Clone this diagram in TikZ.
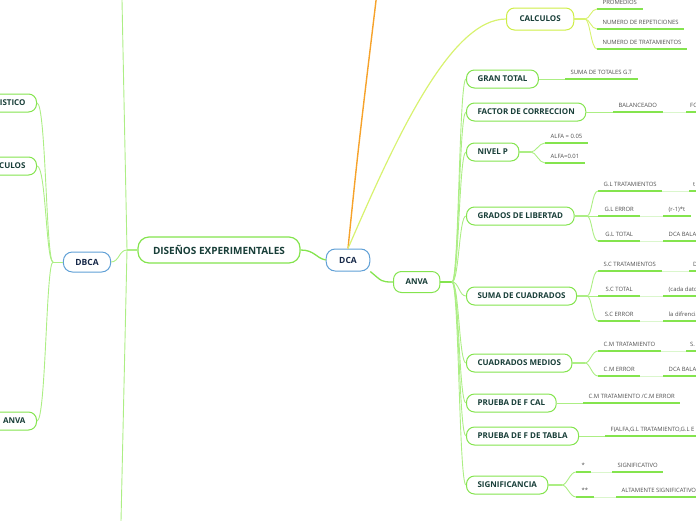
\documentclass[tikz,border=0pt]{standalone}
\usepackage{fontspec}
\setmainfont{Open Sans}
\usetikzlibrary{positioning}
\definecolor{mmgreen}{RGB}{132,228,78}
\definecolor{mmline}{RGB}{172,238,132}
\definecolor{mmfaint}{RGB}{218,246,204}
\definecolor{mmyellow}{RGB}{206,238,70}
\definecolor{mmyline}{RGB}{216,242,112}
\definecolor{mmblue}{RGB}{96,160,214}
\definecolor{mmorange}{RGB}{246,162,42}
\definecolor{mmtext}{RGB}{24,62,56}
\definecolor{mmnavy}{RGB}{22,40,72}
\definecolor{leafgray}{RGB}{78,78,78}
\tikzset{
  root/.style={draw=mmgreen, line width=1.2pt, fill=white, rounded corners=11pt,
    font=\bfseries\fontsize{10}{12}\selectfont, text=mmtext,
    minimum height=26pt, inner xsep=15pt}, % central topic
  topic/.style={draw=mmblue, line width=1pt, fill=white, rounded corners=9pt,
    font=\bfseries\fontsize{8.5}{10}\selectfont, text=mmnavy,
    minimum height=22pt, inner xsep=13pt},
  sub/.style={draw=mmgreen, line width=1pt, fill=white, rounded corners=8pt,
    font=\bfseries\fontsize{8}{10}\selectfont, text=mmtext,
    minimum height=18pt, inner xsep=11pt, anchor=west},
  leaf/.style={font=\fontsize{5.9}{7}\selectfont, text=leafgray,
    text height=4.2pt, text depth=1.2pt, inner xsep=5.5pt, inner ysep=3.2pt,
    anchor=south west},
  edgeleaf/.style={leaf, inner xsep=4pt, text width=20pt, align=left}, % cut by the border
  uline/.style={draw=mmgreen, line width=1.6pt},
  conn/.style={draw=mmline, line width=0.9pt},
  faint/.style={draw=mmfaint, line width=1pt},
}
\begin{document}
\begin{tikzpicture}[x=1pt, y=-1pt]
  \useasboundingbox (0,0) rectangle (696,520);
  \clip (0,0) rectangle (696,520);

  % main nodes
  \node[root] (dis) at (219,250) {DISEÑOS EXPERIMENTALES};
  \node[topic] (dca) at (348,260) {DCA};
  \node[topic, minimum height=20pt, inner xsep=12pt] (dbca) at (87,262) {DBCA};
  \node[sub, draw=mmyellow, minimum height=22pt, inner xsep=13pt] (calc) at (506,19) {CALCULOS};
  \node[sub, minimum height=21pt, inner xsep=12pt] (anva) at (393,282) {ANVA};

  % left column (cut by the border)
  \node[sub, anchor=east, text width=40pt, align=right] (est) at (37,103) {ISTICO};
  \node[sub, anchor=east, text width=40pt, align=right] (calcL) at (37,166) {CULOS};
  \node[sub, anchor=east, text width=40pt, align=right] (anvaL) at (37,421) {ANVA};

  % children of ANVA
  \node[sub] (gt) at (466,79) {GRAN TOTAL};
  \node[sub] (fc) at (466,112) {FACTOR DE CORRECCION};
  \node[sub] (np) at (466,152) {NIVEL P};
  \node[sub] (gl) at (466,216) {GRADOS DE LIBERTAD};
  \node[sub] (sc) at (466,296) {SUMA DE CUADRADOS};
  \node[sub] (cm) at (466,363) {CUADRADOS MEDIOS};
  \node[sub] (pfc) at (466,403) {PRUEBA DE F CAL};
  \node[sub] (pft) at (466,436) {PRUEBA DE F DE TABLA};
  \node[sub] (sig) at (466,485) {SIGNIFICANCIA};

  % leaves
  \node[leaf] (prom) at (597,9) {PROMEDIOS};
  \node[leaf] (nrep) at (597,29) {NUMERO DE REPETICIONES};
  \node[leaf] (ntrat) at (597,49) {NUMERO DE TRATAMIENTOS};

  \node[leaf] (sumtot) at (565,79) {SUMA DE TOTALES G.T};
  \node[leaf] (bal) at (613,112) {BALANCEADO};
  \node[edgeleaf] (fo) at (686,112) {FO};
  \node[leaf] (a05) at (545,143) {ALFA = 0.05};
  \node[leaf] (a01) at (545,163) {ALFA=0.01};

  \node[leaf] (gltrat) at (598,191) {G.L TRATAMIENTOS};
  \node[edgeleaf] (gltrat2) at (689,191) {t};
  \node[leaf, minimum width=42pt] (glerr) at (598,216) {G.L ERROR};
  \node[leaf] (glerr2) at (663,216) {(r-1)*t};
  \node[leaf, minimum width=42pt] (gltot) at (598,241) {G.L TOTAL};
  \node[leaf] (gltot2) at (663,241) {DCA BALA};

  \node[leaf] (sctrat) at (598,271) {S.C TRATAMIENTOS};
  \node[edgeleaf] (sctrat2) at (689,271) {D};
  \node[leaf, minimum width=42pt] (sctot) at (598,296) {S.C TOTAL};
  \node[leaf] (sctot2) at (663,296) {(cada dato};
  \node[leaf, minimum width=42pt] (scerr) at (598,321) {S.C ERROR};
  \node[leaf] (scerr2) at (663,321) {la difrencia};

  \node[leaf] (cmtrat) at (598,351) {C.M TRATAMIENTO};
  \node[edgeleaf] (cmtrat2) at (686,351) {S.};
  \node[leaf, minimum width=42pt] (cmerr) at (598,376) {C.M ERROR};
  \node[leaf] (cmerr2) at (663,376) {DCA BALA};

  \node[leaf] (fcal) at (583,403) {C.M TRATAMIENTO /C.M ERROR};
  \node[leaf] (ftab) at (605,436) {F(ALFA,G.L TRATAMIENTO,G.L E};

  \node[leaf, minimum width=12pt] (ast) at (576,472) {*};
  \node[leaf] (signif) at (612,472) {SIGNIFICATIVO};
  \node[leaf, minimum width=16pt] (ast2) at (576,497) {**};
  \node[leaf] (altsig) at (616,497) {ALTAMENTE SIGNIFICATIVO};

  \foreach \n in {prom,nrep,ntrat,sumtot,bal,fo,a05,a01,gltrat,gltrat2,glerr,glerr2,
      gltot,gltot2,sctrat,sctrat2,sctot,sctot2,scerr,scerr2,cmtrat,cmtrat2,cmerr,
      cmerr2,fcal,ftab,ast,signif,ast2,altsig}
    \draw[uline] (\n.south west) -- (\n.south east);

  % junctions and loose ends
  \coordinate (jd) at (127,250);
  \coordinate (up) at (120.8,-60);
  \coordinate (dn) at (119.7,580);
  \coordinate (jb) at (53,262);
  \coordinate (ja) at (452,282);
  \coordinate (jc) at (585,19);
  \coordinate (jn) at (531,152);
  \coordinate (jg) at (587,216);
  \coordinate (js) at (587,296);
  \coordinate (jm) at (585,363);
  \coordinate (jz) at (562,485);
  \coordinate (orange) at (378.5,-20);

  % connectors
  \draw[mmline, line width=1.8pt] (dis.west) -- (jd);
  \draw[conn] (jd) -- (up);
  \draw[conn] (jd) -- (dn);
  \draw[conn] (dbca.east) .. controls +(8,0) and +(-8,0) .. (jd);
  \draw[conn] (dbca.west) -- (jb);
  \foreach \c in {est,calcL,anvaL}
    \draw[conn] (jb) .. controls +(-7,0) and +(9,0) .. (\c.east);

  \draw[mmgreen, line width=1.3pt] (dis.east) .. controls +(14,0) and +(-10,-2) .. (dca.west);
  \draw[mmorange, line width=1.4pt] (dca.north) .. controls (358,150) .. (orange);
  \draw[mmyline, line width=1.2pt] (dca.north) .. controls (395,140) and (450,19) .. (calc.west);
  \draw[mmgreen, line width=1.3pt] (dca.south east) .. controls +(12,10) and +(-12,0) .. (anva.west);

  \draw[mmyline, line width=1.8pt] (calc.east) -- (jc);
  \foreach \c in {prom,nrep,ntrat}
    \draw[draw=mmyline, line width=0.9pt] (jc) .. controls +(5,0) and +(-6,0) .. (\c.south west);

  \draw[mmgreen, line width=2pt] (anva.east) -- (ja);
  \foreach \c in {gt,fc,np,gl,sc,cm,pfc,pft,sig}
    \draw[conn] (ja) .. controls +(7,0) and +(-7,0) .. (\c.west);

  \draw[conn] (gt.east) -- (sumtot.south west);
  \draw[conn] (fc.east) -- (bal.south west);
  \draw[conn] (pfc.east) -- (fcal.south west);
  \draw[conn] (pft.east) -- (ftab.south west);

  \draw[mmline, line width=1.6pt] (np.east) -- (jn);
  \draw[mmline, line width=1.6pt] (gl.east) -- (jg);
  \draw[mmline, line width=1.6pt] (sc.east) -- (js);
  \draw[mmline, line width=1.6pt] (cm.east) -- (jm);
  \draw[mmline, line width=1.6pt] (sig.east) -- (jz);
  \foreach \c in {a05,a01}
    \draw[conn] (jn) .. controls +(5,0) and +(-6,0) .. (\c.south west);
  \foreach \c in {gltrat,glerr,gltot}
    \draw[conn] (jg) .. controls +(5,0) and +(-6,0) .. (\c.south west);
  \foreach \c in {sctrat,sctot,scerr}
    \draw[conn] (js) .. controls +(5,0) and +(-6,0) .. (\c.south west);
  \foreach \c in {cmtrat,cmerr}
    \draw[conn] (jm) .. controls +(5,0) and +(-6,0) .. (\c.south west);
  \foreach \c in {ast,ast2}
    \draw[conn] (jz) .. controls +(5,0) and +(-6,0) .. (\c.south west);

  % links between chained leaves
  \draw[faint] (bal.south east) -- (fo.south west);
  \draw[faint] (gltrat.south east) -- (gltrat2.south west);
  \draw[faint] (glerr.south east) -- (glerr2.south west);
  \draw[faint] (gltot.south east) -- (gltot2.south west);
  \draw[faint] (sctrat.south east) -- (sctrat2.south west);
  \draw[faint] (sctot.south east) -- (sctot2.south west);
  \draw[faint] (scerr.south east) -- (scerr2.south west);
  \draw[faint] (cmtrat.south east) -- (cmtrat2.south west);
  \draw[faint] (cmerr.south east) -- (cmerr2.south west);
  \draw[faint] (ast.south east) -- (signif.south west);
  \draw[faint] (ast2.south east) -- (altsig.south west);
\end{tikzpicture}
\end{document}
